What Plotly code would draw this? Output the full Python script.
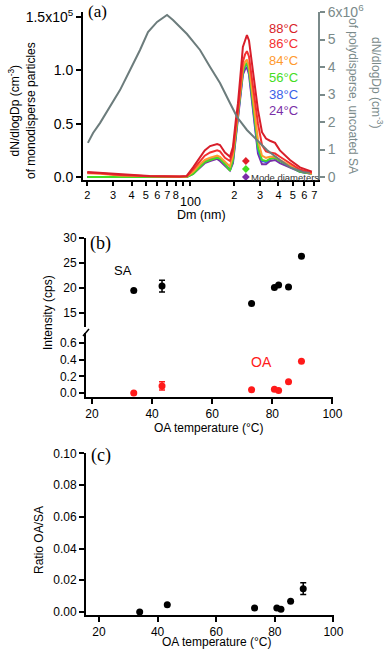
import plotly.graph_objects as go

# ---- panel (a): size distributions ----
dm = [20, 24.5, 33, 53, 85, 95, 105, 117, 126, 137, 143, 153, 160, 173, 187, 196, 205, 212,
      222, 229, 237, 244, 252, 260, 268, 277, 290, 309, 329, 350, 379, 409, 479, 560, 675]
# dN/dlogDp of monodisperse particles, units of 1e5 cm-3
n88 = [0.047, 0.04, 0.025, 0.01, 0.005, 0.01, 0.09, 0.19, 0.25, 0.29, 0.30, 0.31, 0.30, 0.23, 0.19, 0.28, 0.53, 0.69,
       1.0, 1.22, 1.28, 1.33, 1.28, 1.14, 1.0, 0.84, 0.63, 0.42, 0.36, 0.34, 0.32, 0.25, 0.16, 0.09, 0.05]
n86 = [0.04, 0.035, 0.02, 0.008, 0.004, 0.008, 0.07, 0.15, 0.20, 0.23, 0.24, 0.25, 0.24, 0.18, 0.15, 0.24, 0.47, 0.62,
       0.90, 1.08, 1.15, 1.18, 1.13, 1.0, 0.86, 0.70, 0.50, 0.30, 0.24, 0.23, 0.22, 0.19, 0.13, 0.07, 0.04]
n84 = [0.035, 0.03, 0.015, 0.005, 0.002, 0.005, 0.05, 0.12, 0.16, 0.18, 0.19, 0.20, 0.19, 0.14, 0.10, 0.20, 0.42, 0.58,
       0.85, 1.02, 1.08, 1.10, 1.04, 0.90, 0.74, 0.55, 0.35, 0.20, 0.18, 0.19, 0.19, 0.16, 0.11, 0.06, 0.03]
n56 = [0.0, 0.0, 0.0, 0.0, 0.0, 0.0, 0.03, 0.10, 0.14, 0.16, 0.17, 0.18, 0.17, 0.12, 0.06, 0.16, 0.40, 0.56,
       0.83, 0.99, 1.05, 1.07, 1.00, 0.85, 0.68, 0.48, 0.28, 0.16, 0.15, 0.17, 0.18, 0.15, 0.10, 0.05, 0.03]
n38 = [0.0, 0.0, 0.0, 0.0, 0.0, 0.0, 0.04, 0.11, 0.15, 0.17, 0.18, 0.19, 0.17, 0.12, 0.07, 0.15, 0.38, 0.55,
       0.82, 0.98, 1.04, 1.06, 0.99, 0.83, 0.65, 0.45, 0.25, 0.15, 0.14, 0.17, 0.18, 0.15, 0.10, 0.05, 0.03]
n24 = [0.0, 0.0, 0.0, 0.0, 0.0, 0.0, 0.03, 0.09, 0.13, 0.15, 0.16, 0.17, 0.15, 0.10, 0.06, 0.13, 0.36, 0.52,
       0.80, 0.96, 1.01, 1.03, 0.96, 0.80, 0.62, 0.42, 0.22, 0.12, 0.12, 0.15, 0.16, 0.13, 0.09, 0.05, 0.03]

# polydisperse uncoated SA, units of 1e6 cm-3
poly_dm = [20.2, 21.9, 24.4, 28.6, 33.4, 39.1, 45.7, 51.8, 59.7, 69.8, 76.6, 95.4,
           117, 137, 160, 187, 209, 244, 286, 334, 409, 479, 587, 655]
poly_n = [1.24, 1.60, 1.96, 2.55, 3.16, 3.89, 4.62, 5.27, 5.64, 5.89, 5.71, 5.2,
          4.62, 4.00, 3.42, 2.69, 2.18, 1.71, 1.35, 0.98, 0.62, 0.36, 0.18, 0.15]

mode_dm = [240, 240, 240]
mode_y = [0.15, 0.075, 0.0]
mode_colors = ['#e0202a', '#44dd22', '#7a2fa8']

temp_labels = ['88°C', '86°C', '84°C', '56°C', '38°C', '24°C']
temp_colors = ['#d81e2a', '#f43030', '#ff9a2e', '#44dd22', '#3a5fe8', '#7a2fa8']

# ---- panel (b) and (c) ----
oa_temp = [33.9, 43.3, 73.1, 80.7, 82.1, 85.4, 89.7]
sa_int = [19.5, 20.4, 16.9, 20.1, 20.6, 20.2, 26.4]
sa_err = [0, 1.2, 0, 0, 0, 0, 0]
oa_int = [0.0, 0.085, 0.04, 0.045, 0.03, 0.135, 0.38]
oa_err = [0, 0.05, 0, 0, 0, 0, 0]
ratio = [0.0, 0.0045, 0.0025, 0.0025, 0.0018, 0.0068, 0.0147]
ratio_err = [0, 0, 0, 0, 0, 0, 0.0037]

W, H = 392, 654
FONT = 'Liberation Sans'


def px(x):
    return x / W


def py(y):
    return 1 - y / H


fig = go.Figure()

series = [n24, n38, n56, n84, n86, n88]
colors = temp_colors[::-1]
names = temp_labels[::-1]
for s, c, nm in zip(series, colors, names):
    fig.add_trace(go.Scatter(x=dm, y=s, mode='lines', line=dict(color=c, width=2),
                             name=nm, xaxis='x', yaxis='y'))

fig.add_trace(go.Scatter(x=mode_dm, y=mode_y, mode='markers',
                         marker=dict(symbol='diamond', size=6, color=mode_colors),
                         xaxis='x', yaxis='y'))

fig.add_trace(go.Scatter(x=poly_dm, y=poly_n, mode='lines', line=dict(color='#6c7c7c', width=2),
                         xaxis='x', yaxis='y2'))

err_style = dict(type='data', thickness=1.5, width=3)
fig.add_trace(go.Scatter(x=oa_temp, y=sa_int, mode='markers', marker=dict(color='black', size=7),
                         error_y=dict(array=sa_err, color='black', **err_style),
                         xaxis='x2', yaxis='y3'))
fig.add_trace(go.Scatter(x=oa_temp, y=oa_int, mode='markers', marker=dict(color='#ff1a1a', size=7),
                         error_y=dict(array=oa_err, color='#ff1a1a', **err_style),
                         xaxis='x2', yaxis='y4'))
fig.add_trace(go.Scatter(x=oa_temp, y=ratio, mode='markers', marker=dict(color='black', size=7),
                         error_y=dict(array=ratio_err, color='black', **err_style),
                         xaxis='x3', yaxis='y5'))

axis_common = dict(showline=True, linecolor='black', linewidth=2, ticks='outside', ticklen=5,
                   tickwidth=1.5, tickcolor='black', showgrid=False, zeroline=False, automargin=False,
                   ticklabeloverflow='allow', tickfont=dict(family=FONT, size=12, color='black'))

gray = '#7a8a8a'
fig.update_layout(
    width=W, height=H, margin=dict(l=0, r=0, t=0, b=0, autoexpand=False),
    paper_bgcolor='white', plot_bgcolor='white', showlegend=False, hovermode=False,
    font=dict(family=FONT, size=12, color='black'),
    xaxis=dict(axis_common, domain=[px(83), px(318)], anchor='y', type='log', range=[1.272, 2.871],
               tickvals=[20, 30, 40, 50, 60, 70, 80, 90, 100, 200, 300, 400, 500, 600, 700],
               ticktext=['2', '3', '4', '5', '6', '7', '8', ' ', ' ', '2', '3', '4', '5', '6', '7'],
               ticklen=4, tickfont=dict(family=FONT, size=11, color='black')),
    yaxis=dict(axis_common, domain=[py(180), py(12)], anchor='x', range=[-0.028, 1.547],
               tickvals=[0, 0.5, 1.0, 1.5], ticktext=['0.0', '0.5', '1.0', '1.5x10<sup>5</sup>'],
               tickfont=dict(family=FONT, size=14, color='black')),
    yaxis2=dict(axis_common, overlaying='y', side='right', anchor='x', range=[-0.109, 6.0],
                tickvals=[0, 1, 2, 3, 4, 5, 6], ticktext=['0', '1', '2', '3', '4', '5', '6x10<sup>6</sup>'],
                linecolor=gray, tickcolor=gray, tickfont=dict(family=FONT, size=14, color=gray)),
    xaxis2=dict(axis_common, domain=[px(86), px(333)], anchor='y4', range=[18, 100.2],
                tickvals=[20, 40, 60, 80, 100]),
    yaxis3=dict(axis_common, domain=[py(327), py(238)], anchor='x2', range=[12.2, 30.05],
                tickvals=[15, 20, 25, 30]),
    yaxis4=dict(axis_common, domain=[py(397), py(333)], anchor='x2', range=[-0.048, 0.72],
                tickvals=[0, 0.2, 0.4, 0.6], ticktext=['0.0', '0.2', '0.4', '0.6']),
    xaxis3=dict(axis_common, domain=[px(86), px(334)], anchor='y5', range=[15.57, 100.2],
                tickvals=[20, 40, 60, 80, 100]),
    yaxis5=dict(axis_common, domain=[py(615), py(453)], anchor='x3', range=[-0.0019, 0.1002],
                tickvals=[0, 0.02, 0.04, 0.06, 0.08, 0.10], tickformat='.2f'),
)


def note(text, x, y, size=12, color='black', angle=0, family=FONT, xanchor='center'):
    fig.add_annotation(text=text, x=px(x), y=py(y), xref='paper', yref='paper', showarrow=False,
                       textangle=angle, xanchor=xanchor, yanchor='middle',
                       font=dict(family=family, size=size, color=color))


serif = 'Liberation Serif'
note('(a)', 97, 11, size=17, family=serif)
note('(b)', 100, 243, size=18, family=serif)
note('(c)', 101, 455, size=18, family=serif)

note('dN/dlogDp (cm<sup>-3</sup>)<br>of monodisperse particles', 22, 111, angle=-90)
note('dN/dlogDp (cm<sup>-3</sup>)', 377, 82, angle=90, color=gray)
note('of polydisperse, uncoated SA', 353, 96, angle=90, color=gray)
note('100', 190, 202, size=12.5)
note('Dm (nm)', 202, 215, size=12.5)
note('Mode diameters', 249, 177, size=9.5, color='#333333', xanchor='left')

label_y = [28, 44, 61, 77, 94, 110]
for t, c, yy in zip(temp_labels, temp_colors, label_y):
    note(t, 283, yy, size=13, color=c)

note('SA', 123, 270, size=13)
note('OA', 261, 362, size=14, color='#ff1a1a')
note('Intensity (cps)', 48, 313, angle=-90)
note('OA temperature (°C)', 209, 428)
note('Ratio OA/SA', 39, 540, angle=-90)
note('OA temperature (°C)', 217, 642)

# axis break marker
fig.add_shape(type='line', xref='paper', yref='paper', x0=px(83), y0=py(336), x1=px(89), y1=py(329),
              line=dict(color='black', width=1.5))

# the default page body has an 8px margin; drop it so the figure fills the window
fig.write_html("out.html", config={'displayModeBar': False},
               post_script="document.body.style.margin = '0';")
